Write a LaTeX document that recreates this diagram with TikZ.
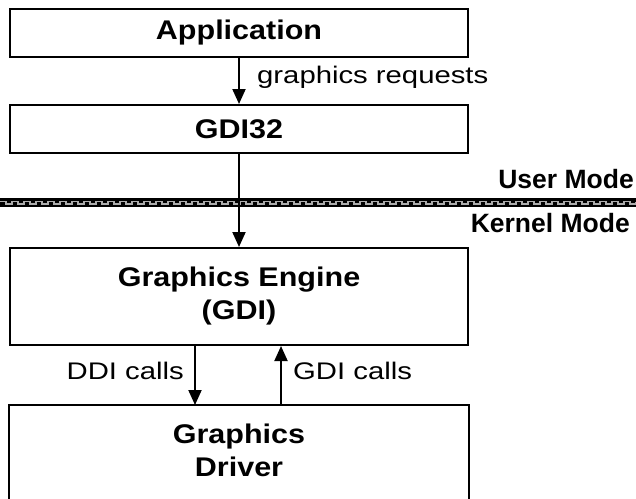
\documentclass[tikz,border=0pt]{standalone}
\usepackage{fontspec}
\setmainfont{Liberation Sans}
\newfontfamily\regf{Liberation Sans}[FakeStretch=1.22]
\newfontfamily\boldf{Liberation Sans}[FakeStretch=1.13]
\newfontfamily\modef{Liberation Sans}[FakeStretch=1.0]
\usetikzlibrary{arrows.meta}
\begin{document}
\begin{tikzpicture}[x=1pt,y=-1pt,
  box/.style={draw, line width=2pt, minimum width=458pt, inner sep=0pt,
    font=\boldf\bfseries\fontsize{27}{33}\selectfont, align=center},
  lbl/.style={font=\regf\fontsize{24}{28}\selectfont, inner sep=0pt},
  mode/.style={font=\modef\bfseries\fontsize{26.5}{33}\selectfont, inner sep=0pt, anchor=base east},
  arr/.style={line width=2pt, -{Triangle[length=15pt,width=13pt]}},
  conn/.style={line width=2pt}]
\fill[white] (0,0) rectangle (636,498);
\useasboundingbox (0,0) rectangle (636,498);

% boundary band
\fill[black] (0,197.5) rectangle (636,207);
\draw[gray!65, line width=1.6pt] (0,201.5)
  \foreach \i in {0,...,52}{ -- ({\i*12+6},201.5) -- ({\i*12+6},204) -- ({\i*12+12},204) -- ({\i*12+12},201.5)};

% boxes
\node[box, minimum height=48pt] (app) at (239,33) {Application};
\node[box, minimum height=48pt] (gdi32) at (239,129) {GDI32};
\node[box, minimum height=97pt] (eng) at (239,296.5) {Graphics Engine\\(GDI)};
\node[box, draw=none, minimum height=88pt] (drv) at (239,450) {Graphics\\Driver};
\draw[conn] ([yshift=-10pt]drv.south west) -- (drv.north west) -- (drv.north east) -- ([yshift=-10pt]drv.south east);

% connectors
\draw[arr] (app.south) -- (gdi32.north);
\draw[arr] (gdi32.south) -- (eng.north);
\draw[arr] ([xshift=-44pt]eng.south) -- ([xshift=-44pt]drv.north);
\draw[arr] ([xshift=42pt]drv.north) -- ([xshift=42pt]eng.south);

% labels
\node[lbl, anchor=base west] (lreq) at (257,83) {graphics requests};
\node[lbl, anchor=base east] (lddi) at (184,379) {DDI calls};
\node[lbl, anchor=base west] (lgdi) at (293,379) {GDI calls};
\node[mode] (umode) at (634,188) {User Mode};
\node[mode] (kmode) at (630,232) {Kernel Mode};
\end{tikzpicture}
\end{document}
